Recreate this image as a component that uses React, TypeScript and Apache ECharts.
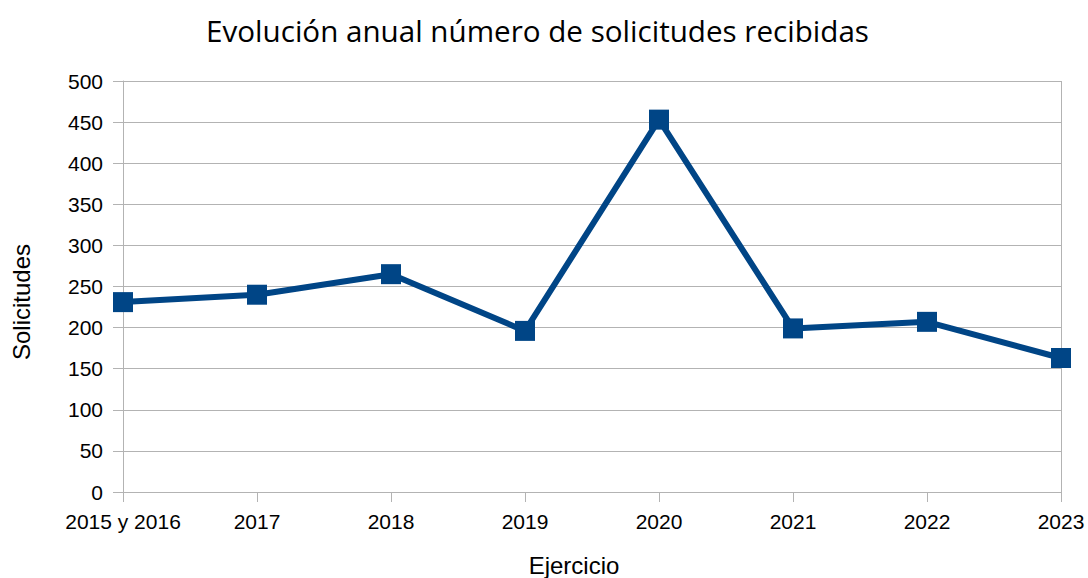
import React, { useEffect, useRef } from "react";
import * as echarts from "echarts";

const categories = ["2015 y 2016", "2017", "2018", "2019", "2020", "2021", "2022", "2023"];
const solicitudes = [231, 240, 265, 196, 453, 199, 207, 163];
const titleText = "Evolución anual número de solicitudes recibidas";
const yName = "Solicitudes";
const xName = "Ejercicio";

export default function App() {
  const ref = useRef<HTMLDivElement>(null);
  useEffect(() => {
    if (!ref.current) return;
    const chart = echarts.init(ref.current, null, { renderer: "svg" });
    const labelFont = { fontFamily: "Liberation Sans", fontSize: 21, color: "#000" };
    chart.setOption({
      animation: false,
      backgroundColor: "#fff",
      grid: { left: 123, right: 27, top: 81, bottom: 86, containLabel: false },
      graphic: [
        {
          type: "text",
          position: [537.5, 30],
          style: {
            text: titleText,
            fontFamily: "Open Sans",
            fontSize: 29.6,
            fill: "#000",
            textAlign: "center",
            textVerticalAlign: "middle",
          },
        },
        {
          type: "text",
          position: [21, 302],
          rotation: Math.PI / 2,
          style: {
            text: yName,
            fontFamily: "Liberation Sans",
            fontSize: 24,
            fill: "#000",
            textAlign: "center",
            textVerticalAlign: "middle",
          },
        },
        {
          type: "text",
          position: [574, 565],
          style: {
            text: xName,
            fontFamily: "Liberation Sans",
            fontSize: 24,
            fill: "#000",
            textAlign: "center",
            textVerticalAlign: "middle",
          },
        },
      ],
      xAxis: {
        type: "category",
        data: categories,
        boundaryGap: false,
        axisLine: { show: true, lineStyle: { color: "#b3b3b3", width: 1 } },
        axisTick: { show: true, length: 10, alignWithLabel: true, lineStyle: { color: "#b3b3b3" } },
        axisLabel: { ...labelFont, margin: 19, interval: 0 },
        splitLine: {
          show: true,
          interval: (i: number) => i === categories.length - 1,
          lineStyle: { color: "#b3b3b3", width: 1 },
        },
      },
      yAxis: {
        type: "value",
        min: 0,
        max: 500,
        interval: 50,
        axisLine: { show: true, lineStyle: { color: "#b3b3b3", width: 1 } },
        axisTick: { show: true, length: 10, lineStyle: { color: "#b3b3b3" } },
        axisLabel: { ...labelFont, margin: 20 },
        splitLine: { show: true, lineStyle: { color: "#b3b3b3", width: 1 } },
      },
      series: [
        {
          type: "line",
          data: solicitudes,
          symbol: "rect",
          symbolSize: 20,
          lineStyle: { color: "#004586", width: 6 },
          itemStyle: { color: "#004586" },
        },
      ],
    });
    return () => chart.dispose();
  }, []);
  return <div ref={ref} style={{ width: 1088, height: 578, position: "absolute", left: 0, top: 0 }} />;
}
